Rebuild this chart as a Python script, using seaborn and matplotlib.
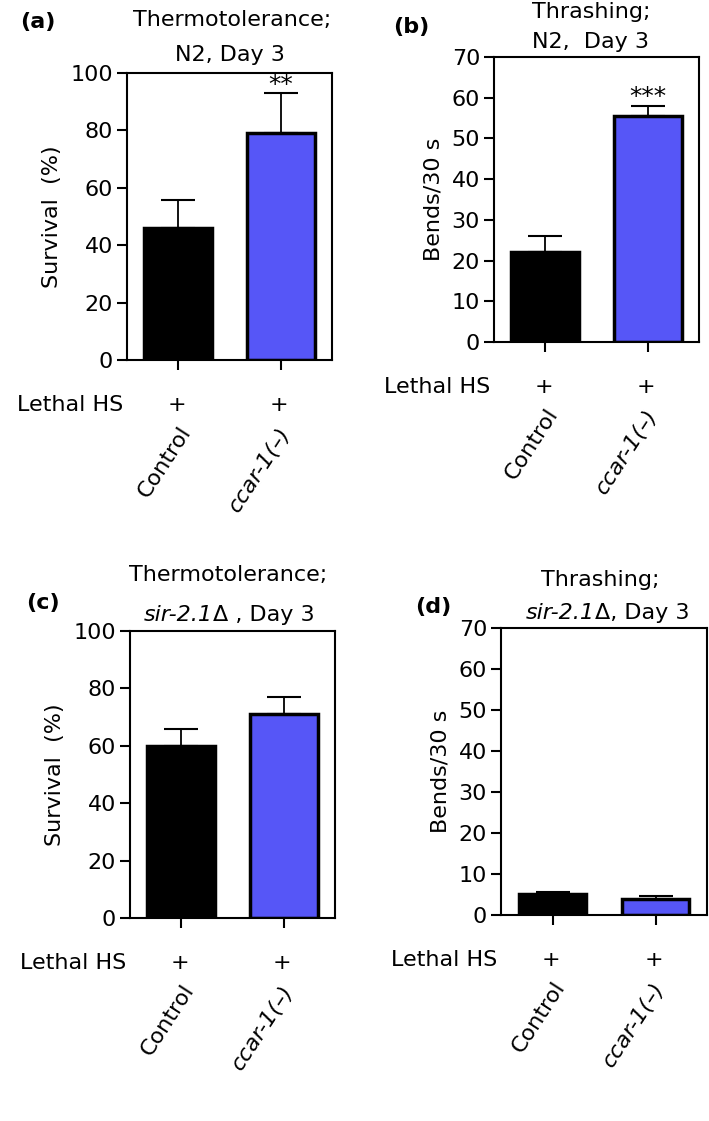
import matplotlib
matplotlib.use('Agg')
import matplotlib.pyplot as plt
import seaborn as sns
import pandas as pd

sns.set_style('white')
plt.rcParams['font.family'] = ['DejaVu Sans']
plt.rcParams['text.color'] = 'black'
plt.rcParams['axes.labelcolor'] = 'black'
plt.rcParams['xtick.color'] = 'black'
plt.rcParams['ytick.color'] = 'black'

groups = ['Control', 'ccar-1(–)']
colors = ['#000000', '#5656F7']

surv_n2 = [46, 79]
surv_n2_err = [9.7, 14]
bends_n2 = [22.2, 55.4]
bends_n2_err = [3.8, 2.6]
surv_sir = [59.8, 71.2]
surv_sir_err = [6.1, 5.8]
bends_sir = [5.2, 3.8]
bends_sir_err = [0.5, 0.8]

FS = 16
W, H = 709, 1121
fig = plt.figure(figsize=(W / 100, H / 100), dpi=100)


def add_ax(l, t, r, b):
    return fig.add_axes([l / W, 1 - b / H, (r - l) / W, (b - t) / H])


def panel(ax, vals, errs, ylim, yticks, ylabel, stars=None):
    df = pd.DataFrame({'group': groups, 'value': vals})
    sns.barplot(data=df, x='group', y='value', hue='group', palette=colors,
                saturation=1, width=0.66, edgecolor='black', linewidth=2.5,
                errorbar=None, legend=False, ax=ax, zorder=2)
    ax.errorbar(range(2), vals, yerr=[[0, 0], errs], fmt='none',
                ecolor='black', elinewidth=1.3, capsize=12.5, capthick=1.5,
                zorder=1)
    ax.set_xlim(-0.5, 1.5)
    ax.set_ylim(*ylim)
    ax.set_yticks(yticks)
    ax.set_xticks([0, 1])
    ax.set_xticklabels([])
    ax.set_xlabel('')
    ax.set_ylabel(ylabel, fontsize=FS, labelpad=6)
    ax.tick_params(axis='y', direction='out', length=7, width=1.5,
                   labelsize=FS, pad=3, left=True)
    ax.tick_params(axis='x', direction='out', length=7, width=1.5,
                   bottom=True)
    for s in ax.spines.values():
        s.set_linewidth(1.5)
        s.set_color('black')
    if stars:
        ax.annotate(stars, xy=(1, vals[1] + errs[1]), xytext=(0, 1),
                    textcoords='offset points', ha='center', va='baseline',
                    fontsize=18)
    # row below the axis
    ax.annotate('Lethal HS', xy=(0, 0), xycoords='axes fraction',
                xytext=(-3, -32.5), textcoords='offset points',
                ha='right', va='center', fontsize=FS)
    offsets = [(5.8, -49), (3.5, -50)]
    for i, g in enumerate(groups):
        ax.annotate('+', xy=(i, 0), xycoords=('data', 'axes fraction'),
                    xytext=(-1, -32.5), textcoords='offset points',
                    ha='center', va='center', fontsize=FS)
        ax.annotate(g, xy=(i, 0), xycoords=('data', 'axes fraction'),
                    xytext=offsets[i], textcoords='offset points',
                    ha='right', va='center', rotation=57,
                    rotation_mode='anchor', fontsize=FS,
                    style='italic' if i == 1 else 'normal')


def two_part_title(x, y, ital, rest):
    fig.text(x / W, 1 - y / H, ital, ha='right', va='center',
             fontsize=FS, style='italic')
    fig.text(x / W, 1 - y / H, rest, ha='left', va='center', fontsize=FS)


ax_a = add_ax(127, 73, 332, 360)
panel(ax_a, surv_n2, surv_n2_err, (0, 100), range(0, 101, 20),
      'Survival  (%)', '**')
ax_b = add_ax(494, 57, 699, 342)
panel(ax_b, bends_n2, bends_n2_err, (0, 70), range(0, 71, 10),
      'Bends/30 s', '***')
ax_c = add_ax(130, 631, 335, 918)
panel(ax_c, surv_sir, surv_sir_err, (0, 100), range(0, 101, 20),
      'Survival  (%)')
ax_d = add_ax(501, 628, 707, 915)
panel(ax_d, bends_sir, bends_sir_err, (0, 70), range(0, 71, 10),
      'Bends/30 s')

# titles
fig.text(232 / W, 1 - 20 / H, 'Thermotolerance;', ha='center', va='center', fontsize=FS)
fig.text(230 / W, 1 - 55 / H, 'N2, Day 3', ha='center', va='center', fontsize=FS)
fig.text(591 / W, 1 - 12 / H, 'Thrashing;', ha='center', va='center', fontsize=FS)
fig.text(591 / W, 1 - 42 / H, 'N2,  Day 3', ha='center', va='center', fontsize=FS)
fig.text(228 / W, 1 - 575 / H, 'Thermotolerance;', ha='center', va='center', fontsize=FS)
two_part_title(213, 615, 'sir-2.1', 'Δ , Day 3')
fig.text(600 / W, 1 - 580 / H, 'Thrashing;', ha='center', va='center', fontsize=FS)
two_part_title(595, 613, 'sir-2.1', 'Δ, Day 3')

# panel letters
for lab, x, y in [('(a)', 38, 22), ('(b)', 411, 27), ('(c)', 43, 603), ('(d)', 433, 607)]:
    fig.text(x / W, 1 - y / H, lab, ha='center', va='center',
             fontsize=FS, fontweight='bold')

fig.savefig('out.png', dpi=100)
